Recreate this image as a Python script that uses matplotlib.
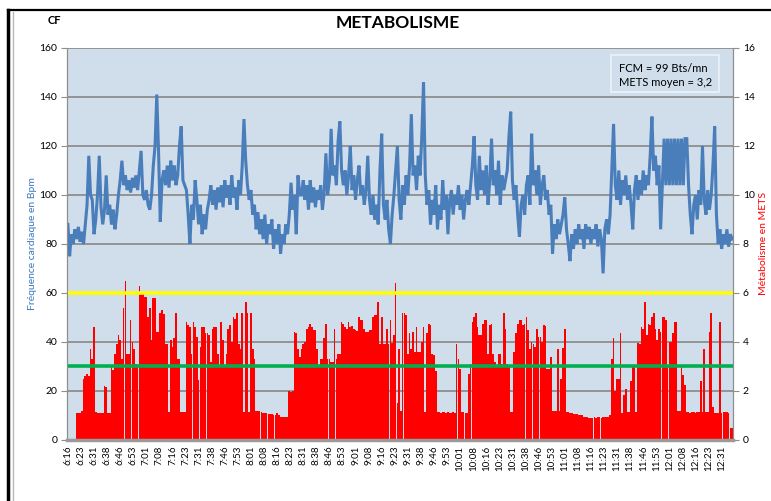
import matplotlib
matplotlib.use("Agg")
import matplotlib.pyplot as plt
from matplotlib.lines import Line2D
from matplotlib.patches import Rectangle
import numpy as np

# one value per minute, starting 6:16
HR = [
    88, 75, 84, 80, 86, 82, 87, 81, 85, 80, 88, 96, 116, 100, 98, 84, 90, 100, 116, 95,
    88, 94, 108, 92, 96, 88, 94, 86, 92, 100, 106, 114, 104, 108, 102, 106, 101, 107, 103, 108,
    102, 110, 118, 100, 98, 102, 96, 94, 100, 112, 120, 141, 118, 89, 106, 110, 104, 112, 103, 114,
    106, 112, 104, 108, 120, 128, 106, 104, 102, 92, 80, 96, 90, 106, 98, 88, 96, 84, 92, 86,
    94, 98, 104, 96, 102, 94, 103, 97, 104, 95, 106, 99, 104, 96, 108, 99, 103, 94, 106, 100,
    112, 131, 114, 104, 98, 102, 92, 96, 86, 93, 84, 90, 82, 92, 80, 88, 84, 90, 78, 86,
    80, 88, 76, 84, 80, 88, 84, 92, 105, 94, 100, 84, 108, 100, 100, 106, 98, 104, 94, 106,
    97, 103, 95, 102, 98, 104, 94, 101, 117, 100, 106, 127, 108, 112, 104, 122, 130, 110, 104, 110,
    100, 108, 120, 102, 108, 98, 106, 112, 100, 104, 96, 102, 116, 98, 92, 100, 90, 96, 88, 110,
    125, 96, 90, 98, 86, 80, 92, 100, 110, 120, 98, 90, 104, 96, 108, 100, 112, 133, 108, 112,
    102, 116, 108, 124, 146, 108, 96, 102, 88, 98, 92, 104, 86, 96, 90, 106, 94, 100, 84, 98,
    102, 92, 100, 96, 104, 94, 100, 90, 98, 102, 96, 104, 112, 124, 104, 98, 116, 102, 110, 100,
    112, 96, 106, 123, 104, 110, 100, 114, 96, 108, 102, 106, 110, 124, 134, 106, 98, 104, 92, 83,
    96, 100, 92, 104, 108, 96, 125, 104, 110, 100, 112, 96, 104, 108, 98, 102, 92, 96, 76, 88,
    82, 90, 84, 88, 92, 99, 86, 80, 73, 84, 78, 86, 80, 88, 82, 86, 78, 88, 82, 87,
    80, 86, 82, 88, 79, 86, 82, 68, 86, 90, 84, 92, 110, 129, 104, 98, 110, 96, 106, 100,
    108, 98, 104, 96, 86, 102, 108, 98, 106, 100, 110, 102, 108, 104, 116, 132, 110, 116, 104, 112,
    86, 104, 123, 104, 123, 104, 123, 104, 123, 104, 123, 104, 123, 104, 123, 123, 104, 92, 84, 96,
    100, 90, 102, 96, 120, 98, 92, 102, 94, 100, 112, 128, 92, 80, 86, 78, 84, 80, 86, 79, 84, 82,
]

METS = [
    0, 0, 0, 0, 0, 1.1, 1.1, 1.1, 1.2, 2.5, 2.6, 2.7, 2.6, 3.7, 3.3, 4.6, 1.15, 1.1, 1.1, 1.1,
    1.1, 2.2, 2.15, 1.1, 1.1, 3.0, 2.85, 3.5, 3.9, 4.3, 4.1, 3.3, 5.4, 6.5, 3.5, 3.5, 4.9, 4.0, 3.7, 3.1,
    3.05, 6.3, 6.0, 6.0, 5.85, 5.85, 5.0, 5.4, 4.1, 5.8, 5.8, 4.4, 4.4, 5.2, 5.3, 5.15, 3.9, 3.9, 1.15, 4.1,
    3.8, 4.15, 5.2, 3.3, 3.3, 1.15, 1.15, 1.15, 4.8, 4.7, 4.6, 3.5, 4.8, 4.6, 4.2, 2.45, 3.8, 4.6, 4.6, 4.35,
    4.35, 4.3, 3.2, 4.55, 4.6, 4.6, 3.5, 3.0, 4.8, 4.1, 3.0, 3.5, 4.55, 4.7, 4.0, 5.0, 4.95, 5.2, 3.9, 3.7,
    5.2, 1.15, 5.65, 5.2, 1.15, 5.2, 3.7, 3.3, 1.2, 1.2, 1.2, 1.15, 1.1, 1.1, 1.1, 1.05, 1.05, 1.05, 1.0, 1.0,
    1.1, 1.0, 0.95, 0.95, 0.95, 0.95, 0.95, 2.0, 1.95, 2.0, 4.4, 4.35, 3.7, 3.4, 3.7, 3.9, 4.0, 4.55, 4.6, 4.75,
    4.6, 4.5, 4.5, 3.7, 3.0, 3.3, 3.3, 4.15, 4.75, 3.3, 3.3, 3.2, 3.2, 4.55, 3.3, 3.5, 3.5, 4.8, 4.75, 4.6,
    4.55, 4.8, 4.6, 4.65, 4.55, 4.5, 4.45, 5.0, 4.9, 4.9, 4.55, 4.4, 4.4, 4.5, 4.5, 5.0, 5.1, 5.1, 5.65, 3.9,
    5.0, 3.9, 3.9, 4.55, 3.9, 4.9, 3.95, 4.3, 6.4, 1.5, 3.7, 1.2, 5.2, 5.2, 5.1, 3.5, 4.35, 3.7, 4.4, 3.6,
    4.6, 3.6, 3.6, 4.0, 4.6, 1.15, 4.35, 4.75, 4.7, 3.5, 3.45, 2.8, 1.15, 1.15, 1.1, 1.15, 1.15, 1.1, 1.15, 1.1,
    1.1, 1.15, 1.1, 3.9, 3.3, 2.9, 1.15, 1.15, 1.1, 1.1, 2.7, 3.1, 4.8, 5.0, 5.2, 4.6, 4.3, 4.3, 4.75, 4.9,
    4.9, 3.5, 4.7, 4.75, 3.5, 3.2, 3.05, 3.5, 3.5, 3.1, 5.2, 4.55, 3.1, 3.0, 1.15, 1.15, 3.6, 4.35, 4.75, 4.9,
    4.9, 4.7, 4.75, 5.0, 4.5, 3.7, 4.0, 3.9, 3.8, 4.55, 4.2, 4.2, 4.0, 4.7, 4.65, 2.9, 2.9, 3.4, 1.2, 1.2,
    1.2, 3.7, 1.2, 2.5, 3.75, 4.55, 1.15, 1.15, 1.1, 1.1, 1.05, 1.05, 1.05, 1.0, 1.0, 1.0, 0.95, 0.95, 0.95, 0.9,
    0.9, 0.9, 0.95, 0.9, 0.95, 0.95, 0.9, 0.95, 0.95, 0.95, 0.95, 1.0, 3.3, 4.15, 2.0, 2.5, 2.5, 4.35, 1.1, 1.85,
    2.1, 1.15, 1.15, 2.4, 3.05, 3.0, 1.15, 3.95, 3.9, 4.6, 4.55, 5.65, 4.3, 4.75, 4.7, 5.0, 5.2, 4.55, 4.1, 4.55,
    4.4, 5.0, 5.0, 4.9, 3.0, 4.0, 4.0, 4.35, 4.8, 4.8, 1.2, 1.2, 3.0, 2.65, 2.25, 1.15, 1.15, 1.1, 1.15, 1.15,
    1.1, 1.15, 1.15, 2.4, 1.15, 3.7, 1.15, 1.15, 4.4, 5.2, 1.35, 1.1, 1.1, 1.1, 4.8, 1.1, 1.15, 1.15, 1.15, 1.1, 0.5, 0.5,
]

TIME_LABELS = [
    "6:16", "6:23", "6:31", "6:38", "6:46", "6:53", "7:01", "7:08", "7:16", "7:23",
    "7:31", "7:38", "7:46", "7:53", "8:01", "8:08", "8:16", "8:23", "8:31", "8:38",
    "8:46", "8:53", "9:01", "9:08", "9:16", "9:23", "9:31", "9:38", "9:46", "9:53",
    "10:01", "10:08", "10:16", "10:23", "10:31", "10:38", "10:46", "10:53", "11:01", "11:08",
    "11:16", "11:23", "11:31", "11:38", "11:46", "11:53", "12:01", "12:08", "12:16", "12:23",
    "12:31",
]

METS_MAX = 6   # yellow line
METS_MIN = 3   # green line
FCM = 99
METS_MOY = "3,2"

BG = "#D0DDEB"
GRID = "#8E8E8E"

plt.rcParams["font.family"] = ["Lato", "DejaVu Sans"]

minutes = np.arange(len(HR))

fig = plt.figure(figsize=(7.71, 5.01), dpi=100)
ax = fig.add_axes([0.0869, 0.1218, 0.8638, 0.7824])
ax2 = ax.twinx()

# METS bars behind, heart rate line on top
ax.set_zorder(ax2.get_zorder() + 1)
ax.patch.set_visible(False)
ax2.patch.set_visible(True)
ax2.set_facecolor(BG)

ax2.set_ylim(0, 16)
ax2.set_yticks(range(0, 17, 2))
ax2.grid(axis="y", color=GRID, linewidth=1.3)
ax2.set_axisbelow(True)
ax2.bar(minutes, METS, width=0.96, color="#FF0000", linewidth=0, zorder=2)
ax2.axhline(METS_MAX, color="#FFFF00", linewidth=2.6, zorder=3)
ax2.axhline(METS_MIN, color="#00B050", linewidth=2.6, zorder=3)

ax.plot(minutes, HR, color="#4A7EBB", linewidth=2.2, solid_joinstyle="miter")
ax.set_ylim(0, 160)
ax.set_yticks(range(0, 161, 20))
ax.set_xlim(-0.5, len(HR) - 0.5)
ax.set_xticks(np.arange(len(TIME_LABELS)) * 7.5)
ax.set_xticklabels(TIME_LABELS, rotation=90, fontsize=7, va="top")
ax.tick_params(axis="x", length=0, pad=4)
ax.tick_params(axis="y", labelsize=7.5, length=4, color=GRID, pad=3)
ax2.tick_params(axis="y", labelsize=7.5, length=4, color=GRID, pad=3)

for a in (ax, ax2):
    a.spines["top"].set_visible(False)
    a.spines["left"].set_color(GRID)
    a.spines["right"].set_color(GRID)
ax.spines["bottom"].set_color("#9A9A9A")
ax.spines["bottom"].set_linewidth(2.5)
ax2.spines["bottom"].set_visible(False)

ax.set_ylabel("Fréquence cardiaque en Bpm", color="#3A78C0", fontsize=7.5, labelpad=2)
ax2.set_ylabel("Métabolisme en METS", color="#FF0000", fontsize=7.5, labelpad=3)

fig.text(0.516, 0.955, "METABOLISME", ha="center", va="center",
         fontsize=12.5, fontweight="bold")
fig.text(0.071, 0.96, "CF", ha="center", va="center", fontsize=8, fontweight="bold")

# info box
fig.add_artist(Rectangle((611 / 771, 1 - 92 / 501), 108 / 771, 37 / 501,
                         transform=fig.transFigure, facecolor=BG,
                         edgecolor="#EEF2F8", linewidth=1.2))
fig.text(619 / 771, 1 - 68 / 501, f"FCM = {FCM} Bts/mn", fontsize=8, va="center")
fig.text(619 / 771, 1 - 82 / 501, f"METS moyen = {METS_MOY}", fontsize=8, va="center")

# outer frame of the screenshot
fig.add_artist(Line2D([8 / 771, 8 / 771], [0, 1 - 10 / 501], color="black", linewidth=2.5))
fig.add_artist(Line2D([8 / 771, 1], [1 - 10 / 501, 1 - 10 / 501], color="black", linewidth=1.6))
fig.add_artist(Line2D([13 / 771, 13 / 771], [0, 1 - 12 / 501], color="#B8B8B8", linewidth=1))

fig.savefig("out.png", dpi=100, facecolor="white")
